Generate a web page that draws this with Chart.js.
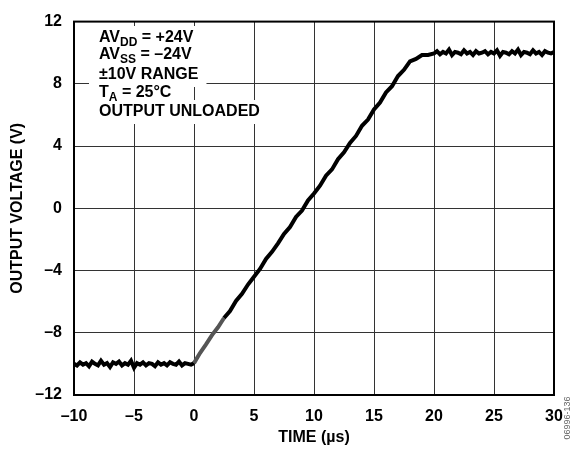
<!DOCTYPE html>
<html>
<head>
<meta charset="utf-8">
<script src="https://cdn.jsdelivr.net/npm/chart.js@4"></script>
<style>
  body { margin: 0; background: #fff; }
  #wrap { width: 577px; height: 450px; position: relative; }
</style>
</head>
<body>
<div id="wrap"><canvas id="outputChart"></canvas></div>
<script>
// output before the step (µs, V)
const lowTimes = [-10, -9.75, -9.5, -9.25, -9, -8.75, -8.5, -8.25, -8, -7.75, -7.5, -7.25, -7, -6.75, -6.5, -6.25, -6, -5.75, -5.5, -5.25, -5, -4.75, -4.5, -4.25, -4, -3.75, -3.5, -3.25, -3, -2.75, -2.5, -2.25, -2, -1.75, -1.5, -1.25, -1, -0.75, -0.5, -0.25, 0];
const lowVolts = [-10.0, -10.1, -9.9, -10.05, -9.95, -10.15, -9.85, -10.0, -10.1, -9.8, -10.05, -9.95, -10.2, -9.9, -10.0, -9.85, -10.1, -9.95, -10.05, -9.8, -10.25, -9.95, -10.05, -9.9, -10.1, -9.95, -10.0, -10.15, -9.9, -10.05, -9.95, -10.1, -9.9, -10.0, -10.05, -9.85, -10.1, -9.95, -10.0, -10.05, -9.95];

// slewing part
const rampTimes = [0.5, 1, 1.5, 2, 2.5, 3, 3.5, 4, 4.5, 5, 5.5, 6, 6.5, 7, 7.5, 8, 8.5, 9, 9.5, 10, 10.5, 11, 11.5, 12, 12.5, 13, 13.5, 14, 14.5, 15, 15.5, 16, 16.5, 17, 17.5, 18, 18.5, 19, 19.5];
const rampVolts = [-9.3, -8.75, -8.15, -7.65, -7.05, -6.6, -5.95, -5.5, -4.9, -4.4, -3.9, -3.25, -2.8, -2.25, -1.65, -1.2, -0.55, -0.15, 0.5, 0.95, 1.45, 2.1, 2.5, 3.15, 3.6, 4.2, 4.65, 5.3, 5.7, 6.35, 6.8, 7.45, 7.85, 8.5, 8.9, 9.45, 9.6, 9.85, 9.85];

// settled output
const highTimes = [20, 20.25, 20.5, 20.75, 21, 21.25, 21.5, 21.75, 22, 22.25, 22.5, 22.75, 23, 23.25, 23.5, 23.75, 24, 24.25, 24.5, 24.75, 25, 25.25, 25.5, 25.75, 26, 26.25, 26.5, 26.75, 27, 27.25, 27.5, 27.75, 28, 28.25, 28.5, 28.75, 29, 29.25, 29.5, 29.75, 30];
const highVolts = [9.95, 10.1, 9.9, 10.05, 9.95, 10.2, 9.85, 10.05, 10.0, 9.9, 10.15, 9.95, 10.05, 9.85, 10.1, 9.95, 10.0, 10.1, 9.9, 10.05, 9.95, 10.15, 9.8, 10.05, 10.0, 9.9, 10.1, 9.95, 10.2, 9.85, 10.05, 10.0, 9.9, 10.15, 9.95, 10.05, 9.85, 10.1, 10.0, 9.95, 10.05];

const xTicks = [-10, -5, 0, 5, 10, 15, 20, 25, 30];
const yTicks = [-12, -8, -4, 0, 4, 8, 12];

const allTimes = lowTimes.concat(rampTimes, highTimes);
const allVolts = lowVolts.concat(rampVolts, highVolts);
const pontos = allTimes.map((t, i) => ({ x: t, y: allVolts[i] }));

function dash(v) {
    return v < 0 ? '\u2013' + Math.abs(v) : String(v);
}

// text block in the top-left corner, each line on white
const infoBox = {
    id: 'infoBox',
    beforeDatasetsDraw(chart) {
        const ctx = chart.ctx;
        const big = 'bold 16px "Liberation Sans", Arial, sans-serif';
        const small = 'bold 12px "Liberation Sans", Arial, sans-serif';
        const linhas = [
            { y: 38, parts: [['AV', 0], ['DD', 1], [' = +24V', 0]] },
            { y: 55, parts: [['AV', 0], ['SS', 1], [' = \u201324V', 0]] },
            { y: 75, parts: [['\u00b110V RANGE', 0]] },
            { y: 93, parts: [['T', 0], ['A', 1], [' = 25\u00b0C', 0]] },
            { y: 112, parts: [['OUTPUT UNLOADED', 0]] }
        ];
        const x0 = 99;
        ctx.save();
        ctx.textBaseline = 'middle';
        linhas.forEach(l => {
            let w = 0;
            l.parts.forEach(p => { ctx.font = p[1] ? small : big; w += ctx.measureText(p[0]).width; });
            ctx.fillStyle = '#fff';
            ctx.fillRect(x0 - 10, l.y - 12, w + 18, 24);
        });
        ctx.fillStyle = '#000';
        linhas.forEach(l => {
            let x = x0;
            l.parts.forEach(p => {
                ctx.font = p[1] ? small : big;
                ctx.fillText(p[0], x, p[1] ? l.y + 5 : l.y);
                x += ctx.measureText(p[0]).width;
            });
        });
        ctx.restore();
    },
    afterDraw(chart) {
        const ctx = chart.ctx;
        const a = chart.chartArea;
        ctx.save();
        ctx.strokeStyle = '#000';
        ctx.lineWidth = 2;
        ctx.strokeRect(a.left, a.top, a.right - a.left, a.bottom - a.top);
        // figure number on the right edge
        ctx.translate(568, 418);
        ctx.rotate(-Math.PI / 2);
        ctx.font = '9px "Liberation Sans", Arial, sans-serif';
        ctx.fillStyle = '#666';
        ctx.textAlign = 'center';
        ctx.textBaseline = 'middle';
        ctx.fillText('06996-136', 0, 0);
        ctx.restore();
    }
};

Chart.defaults.font.family = '"Liberation Sans", Arial, sans-serif';
Chart.defaults.font.size = 16;
Chart.defaults.font.weight = 'bold';
Chart.defaults.color = '#000';

const ctx = document.getElementById('outputChart').getContext('2d');
new Chart(ctx, {
    type: 'line',
    data: {
        datasets: [{
            label: 'Output',
            data: pontos,
            borderColor: '#000',
            borderWidth: 4,
            pointRadius: 0,
            tension: 0,
            borderJoinStyle: 'miter',
            segment: {
                borderColor: c => (c.p0.parsed.x >= 0 && c.p1.parsed.x <= 2.5) ? '#555' : '#000'
            }
        }]
    },
    options: {
        responsive: true,
        maintainAspectRatio: false,
        animation: false,
        layout: { padding: { left: 0, top: 11, right: 23, bottom: 0 } },
        plugins: {
            legend: { display: false },
            tooltip: { enabled: false }
        },
        scales: {
            x: {
                type: 'linear',
                min: -10,
                max: 30,
                afterFit: s => { s.height = 55; },
                afterBuildTicks: s => { s.ticks = xTicks.map(v => ({ value: v })); },
                ticks: { padding: 12, maxRotation: 0, callback: v => dash(v) },
                grid: { color: '#333', lineWidth: 1, drawTicks: false },
                border: { display: false },
                title: { display: true, text: 'TIME (\u00b5s)', padding: { top: 0, bottom: 3 } }
            },
            y: {
                min: -12,
                max: 12,
                afterFit: s => { s.width = 74; },
                afterBuildTicks: s => { s.ticks = yTicks.map(v => ({ value: v })); },
                ticks: { padding: 12, callback: v => dash(v) },
                grid: { color: '#333', lineWidth: 1, drawTicks: false },
                border: { display: false },
                title: { display: true, text: 'OUTPUT VOLTAGE (V)', padding: { top: 8, bottom: 0 } }
            }
        }
    },
    plugins: [infoBox]
});
</script>
</body>
</html>
